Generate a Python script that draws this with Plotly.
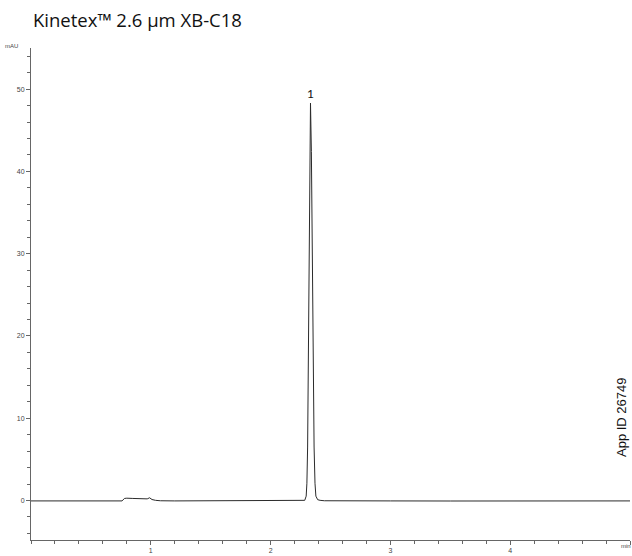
import plotly.graph_objects as go

# Retention time (min) and absorbance (mAU)
time_min = [0.00, 0.20, 0.40, 0.60, 0.76, 0.78, 0.80, 0.85, 0.90, 0.94, 0.97, 0.99, 1.01, 1.04, 1.08, 1.20,
            1.50, 1.80, 2.10, 2.25, 2.273, 2.285, 2.297, 2.303, 2.309, 2.315, 2.321, 2.327, 2.333,
            2.3405, 2.348, 2.3555, 2.363, 2.3705, 2.378, 2.393, 2.413, 2.45, 2.60, 3.00, 3.50, 4.00, 4.50, 5.00]
absorb_mau = [-0.05, -0.05, -0.06, -0.05, -0.05, 0.25, 0.28, 0.25, 0.22, 0.18, 0.20, 0.33, 0.12, 0.02, -0.03, -0.05,
              -0.04, -0.05, -0.05, -0.04, 0.0, 0.02, 0.53, 2.1, 6.5, 15.6, 29.1, 42.4, 48.3,
              42.4, 29.1, 15.6, 6.5, 2.1, 0.53, 0.10, 0.02, -0.03, -0.05, -0.05, -0.06, -0.05, -0.05, -0.05]

peak_labels = ["1"]
peak_times = [2.333]
peak_heights = [48.3]

title_text = "Kinetex™ 2.6 µm XB-C18"
app_id = "App ID 26749"

x_tickvals = [1, 2, 3, 4, 5]
x_ticktext = ["1", "2", "3", "4", ""]
y_tickvals = [0, 10, 20, 30, 40, 50]

fig = go.Figure()
fig.add_trace(go.Scatter(x=time_min, y=absorb_mau, mode="lines",
                         line=dict(color="#2b2b2b", width=1), hoverinfo="skip"))

for lab, t, h in zip(peak_labels, peak_times, peak_heights):
    fig.add_annotation(x=t, y=h, text=lab, showarrow=False, yanchor="bottom", yshift=0,
                       font=dict(family="Lato, Open Sans, sans-serif", size=12, color="#111"))

fig.add_annotation(xref="paper", yref="paper", x=0.0, y=1.057, xanchor="left", yanchor="middle",
                   text=title_text, showarrow=False,
                   font=dict(family="Open Sans, Lato, sans-serif", size=18.5, color="#111"))
fig.add_annotation(xref="paper", yref="paper", x=-0.032, y=1.004, xanchor="center", yanchor="middle",
                   text="mAU", showarrow=False,
                   font=dict(family="Liberation Sans, Arial, sans-serif", size=6, color="#444"))
fig.add_annotation(xref="paper", yref="paper", x=0.993, y=-0.002, xanchor="center", yanchor="top",
                   text="min", showarrow=False,
                   font=dict(family="Liberation Sans, Arial, sans-serif", size=6, color="#444"))
fig.add_annotation(x=4.93, y=5.0, text=app_id, showarrow=False, textangle=-90,
                   xanchor="center", yanchor="bottom",
                   font=dict(family="Liberation Sans, Arial, sans-serif", size=13, color="#111"))

fig.update_layout(
    width=632, height=556,
    margin=dict(l=31, r=2, t=48, b=13),
    paper_bgcolor="white", plot_bgcolor="white",
    showlegend=False,
    xaxis=dict(range=[0, 5], tickvals=x_tickvals, ticktext=x_ticktext,
               showline=True, linecolor="#666", linewidth=1, showgrid=False, zeroline=False,
               ticks="outside", ticklen=4, tickcolor="#666",
               minor=dict(dtick=0.2, ticks="outside", ticklen=3, tickcolor="#666"),
               tickfont=dict(family="Liberation Sans, Arial, sans-serif", size=7, color="#444")),
    yaxis=dict(range=[-4.8, 55], tickvals=y_tickvals,
               showline=True, linecolor="#666", linewidth=1, showgrid=False, zeroline=False,
               ticks="outside", ticklen=4, tickcolor="#666",
               minor=dict(dtick=2, ticks="outside", ticklen=3, tickcolor="#666"),
               tickfont=dict(family="Liberation Sans, Arial, sans-serif", size=7, color="#444")),
)

fig.write_html("out.html", config={"displayModeBar": False},
               post_script="document.body.style.margin='0';document.body.style.overflow='hidden';")
